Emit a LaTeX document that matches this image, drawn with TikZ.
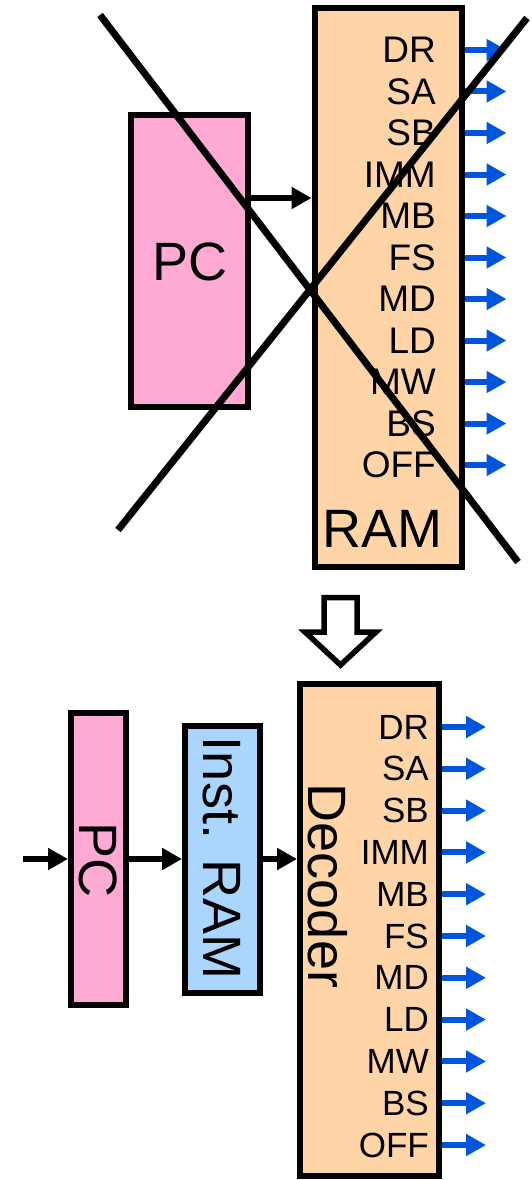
\documentclass[tikz,border=0pt]{standalone}
\usepackage{fontspec}
\setmainfont{Liberation Sans}
\usetikzlibrary{arrows.meta}
\definecolor{pinkc}{HTML}{FFAAD4}
\definecolor{orangec}{HTML}{FFD5A8}
\definecolor{lbluec}{HTML}{AAD5FF}
\definecolor{sigc}{HTML}{0055DD}
\begin{document}
\begin{tikzpicture}[x=1pt,y=-1pt,
 blk/.style={draw=black,line width=6pt,inner sep=0pt,outer sep=3pt},
 sig/.style={draw=sigc,line width=6pt,-{Triangle[length=20pt,width=21pt]}},
 blkarrow/.style={line width=6pt,-{Triangle[length=20pt,width=21pt]}},
 cross/.style={line width=7pt},
 lbltop/.style={font=\fontsize{37}{37}\selectfont,inner sep=0pt,anchor=east},
 lblbot/.style={font=\fontsize{35}{35}\selectfont,inner sep=0pt,anchor=east},
 big/.style={font=\fontsize{54}{54}\selectfont,inner sep=0pt}
]
\useasboundingbox (0,0) rectangle (531,1180);
% ---------- top ----------
\node[blk,fill=orangec,minimum width=147pt,minimum height=558pt] (ram1) at (388,287.5) {};
\node[blk,fill=pinkc,minimum width=117pt,minimum height=292pt] (pc1) at (189.5,261) {};
\node[big] (pc1lbl) at (190,262) {PC};
\node[big,anchor=base east] (ramlbl) at (443,547) {RAM};
\coordinate (a1) at (250,198);
\draw[blkarrow] (pc1.east |- a1) -- (ram1.west |- a1);
\foreach \s [count=\i from 0] in {DR,SA,SB,IMM,MB,FS,MD,LD,MW,BS,OFF}{
  \node[lbltop] (t\s) at (436,50+41.5*\i) {\s};
  \draw[sig] (ram1.east |- t\s.center) -- ++(42,0);
}
\draw[cross] (100,15) -- (518,562);
\draw[cross] (527,18) -- (118,530);
% ---------- hollow arrow ----------
\draw[line width=5.5pt,fill=white,line join=miter] (324,597.5) -- (357,597.5) -- (357,632) -- (376,632) -- (340.5,665) -- (305,632) -- (324,632) -- cycle;
% ---------- bottom ----------
\node[blk,fill=pinkc,minimum width=55pt,minimum height=292pt] (pc2) at (98.5,859) {};
\node[blk,fill=lbluec,minimum width=75pt,minimum height=267pt] (inst) at (222.5,859.5) {};
\node[blk,fill=orangec,minimum width=139pt,minimum height=492pt] (dec) at (369.5,930) {};
\node[big,rotate=-90] (pc2lbl) at (98,860) {PC};
\node[big,rotate=-90] (instlbl) at (222,858) {Inst. RAM};
\node[big,rotate=-90] (declbl) at (327.5,886) {Decoder};
\coordinate (in) at (23,859);
\draw[blkarrow] (in) -- (pc2.west);
\draw[blkarrow] (pc2.east) -- (inst.west |- pc2.east);
\draw[blkarrow] (inst.east |- pc2.east) -- (dec.west |- pc2.east);
\foreach \s [count=\i from 0] in {DR,SA,SB,IMM,MB,FS,MD,LD,MW,BS,OFF}{
  \node[lblbot] (b\s) at (429,727+41.8*\i) {\s};
  \draw[sig] (dec.east |- b\s.center) -- ++(44,0);
}
\end{tikzpicture}
\end{document}
